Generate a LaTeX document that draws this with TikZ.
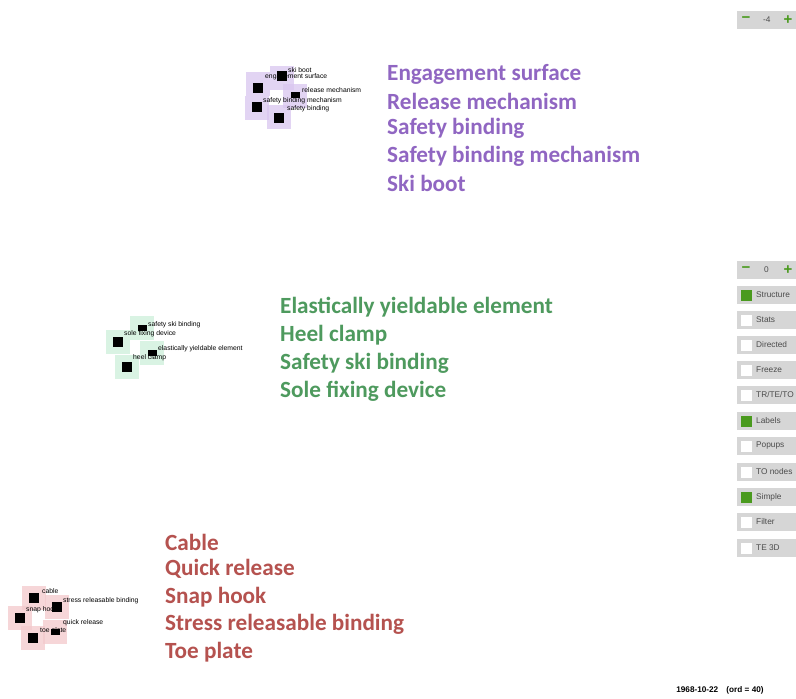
\documentclass[tikz,border=0pt]{standalone}
\usepackage{fontspec}
\setmainfont{Carlito}
\newfontfamily\labfont{Liberation Sans}
\definecolor{purp}{HTML}{9066C2}
\definecolor{grn}{HTML}{4E9A5E}
\definecolor{redt}{HTML}{B5524F}
\definecolor{purhalo}{HTML}{D9C6F0}
\definecolor{grnhalo}{HTML}{CDF0DA}
\definecolor{redhalo}{HTML}{F3C9CC}
\definecolor{panel}{HTML}{D6D6D6}
\definecolor{chk}{HTML}{4A9A1E}
\begin{document}
\begin{tikzpicture}[x=1pt,y=-1pt,
  big/.style={anchor=west,font=\fontsize{23.2}{25}\selectfont\bfseries,inner sep=0pt},
  small/.style={anchor=west,font=\labfont\fontsize{6.8}{7}\selectfont,inner sep=0pt,text=black},
  blk/.style={fill=black,inner sep=0pt,minimum size=10pt},
  blks/.style={fill=black,inner sep=0pt,minimum width=9pt,minimum height=6pt},
  halo/.style={fill=#1,opacity=0.75,inner sep=0pt,minimum size=24pt},
  btn/.style={fill=panel,anchor=west,inner sep=0pt,minimum width=60pt,minimum height=18pt},
  bt/.style={anchor=west,font=\labfont\fontsize{8.3}{9}\selectfont,text=black!70,inner sep=0pt},
  cbon/.style={fill=chk,inner sep=0pt,minimum size=11pt},
  cboff/.style={fill=white,inner sep=0pt,minimum size=11pt},
  pm/.style={text=chk,font=\labfont\bfseries\fontsize{15}{15}\selectfont,inner sep=0pt}]
\useasboundingbox[fill=white] (0,0) rectangle (796,699);

% ---------- purple cluster ----------
\foreach \x/\y in {258/84,282/78,295/96,257/108,279/117}
  \node[halo=purhalo] at (\x,\y) {};
\node[blk] (p1) at (258,88) {};
\node[blk] (p2) at (282,76) {};
\node[blks] (p3) at (295,95) {};
\node[blk] (p4) at (257,107) {};
\node[blk] (p5) at (279,118) {};
\node[small] (ps1) at (288,70) {ski boot};
\node[small] (ps2) at (265,77) {engagement surface};
\node[small] (ps3) at (302,90) {release mechanism};
\node[small] (ps4) at (263,101) {safety binding mechanism};
\node[small] (ps5) at (287,109) {safety binding};
\node[big,text=purp] (pl1) at (387,74) {Engagement surface};
\node[big,text=purp] (pl2) at (387,101) {Release mechanism};
\node[big,text=purp] (pl3) at (387,128) {Safety binding};
\node[big,text=purp] (pl4) at (387,156) {Safety binding mechanism};
\node[big,text=purp] (pl5) at (387,183) {Ski boot};

% ---------- green cluster ----------
\foreach \x/\y in {118/342,142/328,152/353,127/367}
  \node[halo=grnhalo] at (\x,\y) {};
\node[blk] (g1) at (118,342) {};
\node[blks] (g2) at (142,328) {};
\node[blks] (g3) at (152,353) {};
\node[blk] (g4) at (127,367) {};
\node[small] (gs1) at (148,325) {safety ski binding};
\node[small] (gs2) at (124,334) {sole fixing device};
\node[small] (gs3) at (158,349) {elastically yieldable element};
\node[small] (gs4) at (133,358) {heel clamp};
\node[big,text=grn] (gl1) at (280,307) {Elastically yieldable element};
\node[big,text=grn] (gl2) at (280,335) {Heel clamp};
\node[big,text=grn] (gl3) at (280,363) {Safety ski binding};
\node[big,text=grn] (gl4) at (280,391) {Sole fixing device};

% ---------- red cluster ----------
\foreach \x/\y in {34/598,57/607,20/618,33/638,55/632}
  \node[halo=redhalo] at (\x,\y) {};
\node[blk] (r1) at (34,598) {};
\node[blk] (r2) at (57,607) {};
\node[blk] (r3) at (20,618) {};
\node[blk] (r4) at (33,638) {};
\node[blks] (r5) at (55,632) {};
\node[small] (rs1) at (42,591) {cable};
\node[small] (rs2) at (63,601) {stress releasable binding};
\node[small] (rs3) at (26,610) {snap hook};
\node[small] (rs4) at (63,623) {quick release};
\node[small] (rs5) at (40,631) {toe plate};
\node[big,text=redt] (rl1) at (165,542) {Cable};
\node[big,text=redt] (rl2) at (165,569) {Quick release};
\node[big,text=redt] (rl3) at (165,597) {Snap hook};
\node[big,text=redt] (rl4) at (165,624) {Stress releasable binding};
\node[big,text=redt] (rl5) at (165,652) {Toe plate};

% ---------- control panel ----------
\node[btn] (z1) at (737,20) {};
\node[pm] (z1m) at (746,20) {\textminus};
\node[bt] (z1v) at (763,20) {-4};
\node[pm] (z1p) at (788,20) {+};

\node[btn] (z2) at (737,270) {};
\node[pm] (z2m) at (746,270) {\textminus};
\node[bt] (z2v) at (764,270) {0};
\node[pm] (z2p) at (788,270) {+};

\foreach \n/\y/\t/\s in {b1/295/Structure/cbon, b2/320/Stats/cboff, b3/345/Directed/cboff,
  b4/370/Freeze/cboff, b5/395/{TR/TE/TO}/cboff, b6/421/Labels/cbon, b7/446/Popups/cboff,
  b8/472/TO nodes/cboff, b9/497/Simple/cbon, b10/522/Filter/cboff, b11/548/TE 3D/cboff}{
  \node[btn] (\n) at (737,\y) {};
  \node[\s] (\n c) at (746,\y) {};
  \node[bt] (\n t) at (756,\y) {\t};
}
\node[anchor=center,font=\labfont\bfseries\fontsize{8.2}{9}\selectfont,inner sep=0pt] (date) at (720,690) {1968-10-22\quad(ord = 40)};
\end{tikzpicture}
\end{document}
